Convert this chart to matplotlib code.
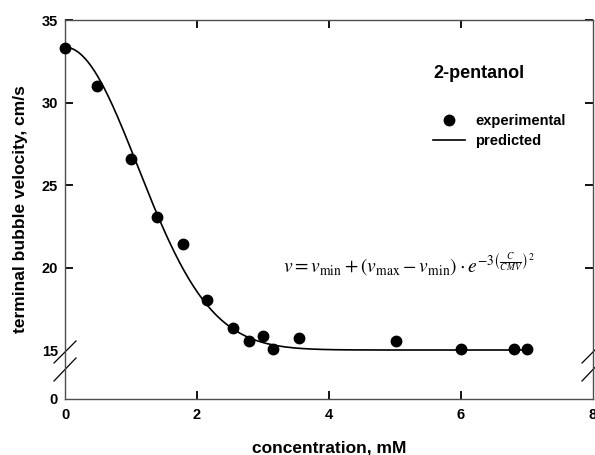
import numpy as np
import matplotlib
matplotlib.use("Agg")
import matplotlib.pyplot as plt
from matplotlib.lines import Line2D

plt.rcParams['font.family'] = ['Liberation Sans', 'DejaVu Sans']
plt.rcParams['mathtext.fontset'] = 'stix'

# experimental data
conc = [0.0, 0.49, 1.0, 1.40, 1.79, 2.15, 2.55, 2.79, 3.0, 3.15, 3.55, 5.01, 6.0, 6.8, 7.0]
velocity = [33.32, 31.0, 26.6, 23.04, 21.42, 18.03, 16.33, 15.56, 15.85, 15.06, 15.75, 15.55, 15.06, 15.06, 15.06]

# model parameters (predicted curve shown by the equation in the chart)
v_min = 15.0
v_max = 33.35
cmv = 2.7

x_ticks = [0, 2, 4, 6, 8]
y_ticks = [0, 15, 20, 25, 30, 35]
y_ticklabels = ['0', '15', '20', '25', '30', '35']

BREAK = 15.0
LOW_SPAN = 2.95


def fwd(y):
    y = np.asarray(y, dtype=float)
    return np.where(y >= BREAK, y, BREAK - (BREAK - y) * LOW_SPAN / BREAK)


def inv(y):
    y = np.asarray(y, dtype=float)
    return np.where(y >= BREAK, y, BREAK - (BREAK - y) * BREAK / LOW_SPAN)


fig = plt.figure(figsize=(5.95, 4.55), dpi=100)
W, H = 595, 455
ax = fig.add_axes([65 / W, 1 - 398.7 / H, (593 - 65) / W, (398.7 - 20) / H])
ax.set_yscale('function', functions=(fwd, inv))

c_curve = np.linspace(0, 7.0, 300)
v_curve = v_min + (v_max - v_min) * np.exp(-3 * (c_curve / cmv) ** 2)
ax.plot(c_curve, v_curve, color='black', lw=1.2, label='predicted')
ax.plot(conc, velocity, 'o', color='black', ms=7.5, label='experimental', clip_on=False, zorder=3)

ax.set_xlim(0, 8)
ax.set_ylim(0, 35)
ax.set_xticks(x_ticks)
ax.set_xticklabels([str(t) for t in x_ticks])
ax.set_yticks(y_ticks)
ax.set_yticklabels(y_ticklabels)
ax.minorticks_off()

for s in ax.spines.values():
    s.set_color('#4d4d4d')
    s.set_linewidth(1.0)

ax.tick_params(axis='both', direction='in', length=6, width=1.3, color='black',
               top=True, right=True, labelsize=10.5)
ax.tick_params(axis='y', pad=5)
ax.tick_params(axis='x', pad=7)
for lab in ax.get_xticklabels() + ax.get_yticklabels():
    lab.set_fontweight('bold')

# hide tick marks at 0 and 15 on y, and at 0 and 8 on x
yt = ax.yaxis.get_major_ticks()
for i in (0, 1):
    yt[i].tick1line.set_visible(False)
    yt[i].tick2line.set_visible(False)
xt = ax.xaxis.get_major_ticks()
for i in (0, len(xt) - 1):
    xt[i].tick1line.set_visible(False)
    xt[i].tick2line.set_visible(False)

ax.set_xlabel('concentration, mM', fontsize=12.5, fontweight='bold', labelpad=13)
ax.set_ylabel('terminal bubble velocity, cm/s', fontsize=12.5, fontweight='bold', labelpad=10)

# axis break marks
axh = 398.7 - 20
axw = 593 - 65
for xc in (0.0, 1.0):
    for (ya, yb) in (((398.7 - 363) / axh, (398.7 - 341) / axh), ((398.7 - 381) / axh, (398.7 - 358) / axh)):
        ax.add_line(Line2D([xc - 11 / axw, xc + 11 / axw], [ya, yb], transform=ax.transAxes,
                           color='black', lw=0.9, clip_on=False))

# annotations
fig.text(433 / W, 1 - 74 / H, '2-pentanol', fontsize=13, fontweight='bold', va='center', ha='left')

leg = ax.legend(handles=[Line2D([], [], marker='o', ls='none', color='black', ms=7.5),
                         Line2D([], [], color='black', lw=1.2)],
                labels=['experimental', 'predicted'],
                loc='upper left', bbox_to_anchor=((433 - 65) / axw, (398.7 - 114) / axh),
                frameon=False, fontsize=10.5, handlelength=2.2, handletextpad=0.7,
                labelspacing=0.42, borderpad=0, borderaxespad=0)
for t in leg.get_texts():
    t.set_fontweight('bold')

fig.text(283 / W, 1 - 265 / H,
         r'$v = v_{\min} + \left(v_{\max} - v_{\min}\right)\cdot e^{-3\left(\frac{C}{CMV}\right)^2}$',
         fontsize=14, va='center', ha='left')

fig.savefig('out.png', dpi=100)
